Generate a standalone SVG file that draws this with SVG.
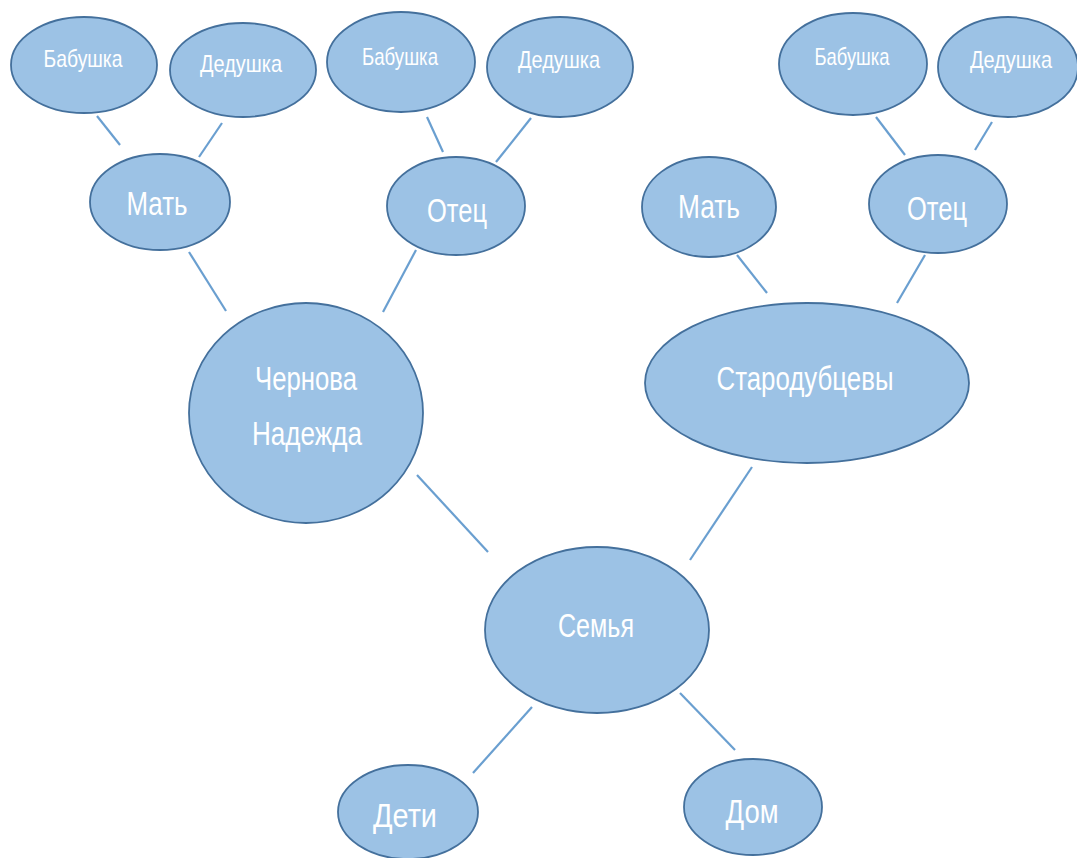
<svg xmlns="http://www.w3.org/2000/svg" width="1077" height="858" viewBox="0 0 1077 858">
<style>
.n{fill:#9cc2e5;stroke:#44709c;stroke-width:1.8}
.t{fill:#ffffff;font-family:"Liberation Sans Narrow","Liberation Sans",sans-serif;text-anchor:middle}
.s{font-size:24px}
.m{font-size:34px}
.c line{stroke:#6a9fd0;stroke-width:2.2;stroke-linecap:butt}
</style>
<rect width="1077" height="858" fill="#ffffff"/>
<g class="c" id="connectors">
<line x1="97" y1="116" x2="120" y2="145"/>
<line x1="222" y1="123" x2="199" y2="157"/>
<line x1="189" y1="252" x2="226" y2="311"/>
<line x1="427" y1="117" x2="443" y2="152"/>
<line x1="531" y1="118" x2="496" y2="162"/>
<line x1="416" y1="250" x2="383" y2="312"/>
<line x1="876" y1="117" x2="905" y2="155"/>
<line x1="992" y1="122" x2="975" y2="150"/>
<line x1="737" y1="255" x2="767" y2="293"/>
<line x1="925" y1="255" x2="897" y2="303"/>
<line x1="417" y1="475" x2="488" y2="552"/>
<line x1="752" y1="467" x2="690" y2="560"/>
<line x1="532" y1="707" x2="473" y2="773"/>
<line x1="680" y1="693" x2="735" y2="750"/>
</g>
<g id="babushka1"><ellipse class="n" cx="84" cy="65" rx="73" ry="48"/><text class="t s" x="83" y="67" textLength="79" lengthAdjust="spacingAndGlyphs">Бабушка</text></g>
<g id="dedushka1"><ellipse class="n" cx="243" cy="70" rx="73" ry="47"/><text class="t s" x="241" y="72" textLength="82" lengthAdjust="spacingAndGlyphs">Дедушка</text></g>
<g id="mat1"><ellipse class="n" cx="160" cy="202" rx="70" ry="48"/><text class="t m" x="157" y="215" textLength="61" lengthAdjust="spacingAndGlyphs">Мать</text></g>
<g id="babushka2"><ellipse class="n" cx="401" cy="62" rx="74" ry="50"/><text class="t s" x="400" y="65" textLength="76" lengthAdjust="spacingAndGlyphs">Бабушка</text></g>
<g id="dedushka2"><ellipse class="n" cx="560" cy="67" rx="73" ry="50"/><text class="t s" x="559" y="68" textLength="82" lengthAdjust="spacingAndGlyphs">Дедушка</text></g>
<g id="otec1"><ellipse class="n" cx="456" cy="206" rx="69" ry="49"/><text class="t m" x="457" y="222" textLength="60" lengthAdjust="spacingAndGlyphs">Отец</text></g>
<g id="babushka3"><ellipse class="n" cx="853" cy="64" rx="74" ry="51"/><text class="t s" x="852" y="65" textLength="75" lengthAdjust="spacingAndGlyphs">Бабушка</text></g>
<g id="dedushka3"><ellipse class="n" cx="1008" cy="67" rx="70" ry="50"/><text class="t s" x="1011" y="68" textLength="82" lengthAdjust="spacingAndGlyphs">Дедушка</text></g>
<g id="mat2"><ellipse class="n" cx="709" cy="207" rx="67" ry="50"/><text class="t m" x="709" y="218" textLength="62" lengthAdjust="spacingAndGlyphs">Мать</text></g>
<g id="otec2"><ellipse class="n" cx="938" cy="204" rx="69" ry="49"/><text class="t m" x="937" y="220" textLength="60" lengthAdjust="spacingAndGlyphs">Отец</text></g>
<g id="chernova"><ellipse class="n" cx="306" cy="413" rx="117" ry="110"/><text class="t m" x="306" y="390" textLength="102" lengthAdjust="spacingAndGlyphs">Чернова</text><text class="t m" x="307" y="445" textLength="110" lengthAdjust="spacingAndGlyphs">Надежда</text></g>
<g id="starodubcevy"><ellipse class="n" cx="807" cy="383" rx="162" ry="80"/><text class="t m" x="805" y="390" textLength="177" lengthAdjust="spacingAndGlyphs">Стародубцевы</text></g>
<g id="semya"><ellipse class="n" cx="597" cy="630" rx="112" ry="83"/><text class="t m" x="596" y="637" textLength="76" lengthAdjust="spacingAndGlyphs">Семья</text></g>
<g id="deti"><ellipse class="n" cx="408" cy="812" rx="70" ry="47"/><text class="t m" x="405" y="827" textLength="64" lengthAdjust="spacingAndGlyphs">Дети</text></g>
<g id="dom"><ellipse class="n" cx="753" cy="807" rx="69" ry="48"/><text class="t m" x="752" y="823" textLength="53" lengthAdjust="spacingAndGlyphs">Дом</text></g>
</svg>
